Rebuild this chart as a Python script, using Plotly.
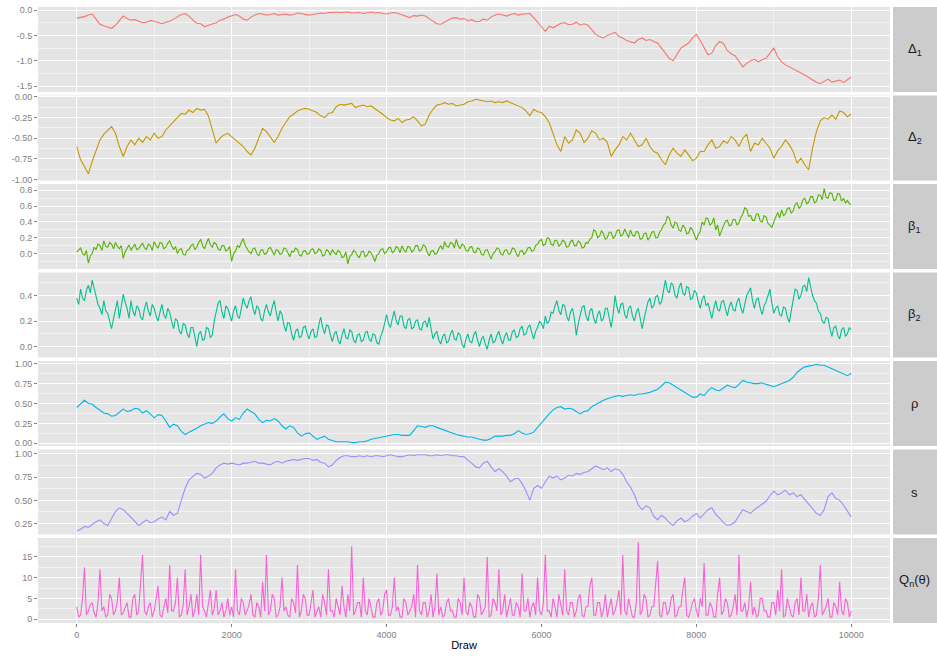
import plotly.graph_objects as go
from plotly.subplots import make_subplots

# ---------------- data ----------------
draws_50 = list(range(0, 10001, 50))
draws_25 = list(range(0, 10001, 25))

delta1 = [-0.16,-0.15,-0.13,-0.10,-0.08,-0.18,-0.28,-0.31,-0.33,-0.36,-0.30,-0.20,-0.12,-0.17,-0.20,-0.19,-0.22,-0.25,-0.24,-0.21,
 -0.22,-0.25,-0.27,-0.24,-0.22,-0.18,-0.14,-0.09,-0.07,-0.12,-0.20,-0.26,-0.27,-0.33,-0.30,-0.27,-0.25,-0.20,-0.18,-0.14,
 -0.12,-0.09,-0.12,-0.18,-0.20,-0.14,-0.10,-0.07,-0.08,-0.10,-0.09,-0.07,-0.10,-0.09,-0.08,-0.10,-0.09,-0.06,-0.07,-0.09,
 -0.10,-0.09,-0.08,-0.06,-0.07,-0.05,-0.05,-0.04,-0.05,-0.04,-0.04,-0.06,-0.06,-0.05,-0.07,-0.05,-0.04,-0.06,-0.05,-0.07,
 -0.08,-0.06,-0.05,-0.07,-0.10,-0.13,-0.15,-0.11,-0.12,-0.10,-0.12,-0.17,-0.22,-0.27,-0.28,-0.24,-0.20,-0.16,-0.15,-0.18,
 -0.17,-0.21,-0.19,-0.23,-0.22,-0.18,-0.20,-0.14,-0.10,-0.08,-0.10,-0.12,-0.09,-0.07,-0.10,-0.08,-0.08,-0.07,-0.15,-0.25,
 -0.33,-0.42,-0.32,-0.35,-0.30,-0.26,-0.25,-0.29,-0.28,-0.24,-0.30,-0.27,-0.30,-0.38,-0.48,-0.52,-0.55,-0.50,-0.47,-0.44,
 -0.52,-0.55,-0.60,-0.63,-0.65,-0.58,-0.55,-0.60,-0.58,-0.62,-0.65,-0.75,-0.85,-0.95,-1.00,-0.88,-0.75,-0.70,-0.65,-0.55,
 -0.48,-0.60,-0.75,-0.88,-0.85,-0.70,-0.62,-0.66,-0.80,-0.86,-0.90,-1.02,-1.12,-1.05,-1.00,-0.97,-1.02,-0.98,-0.95,-0.85,
 -0.75,-0.92,-1.02,-1.08,-1.12,-1.15,-1.20,-1.24,-1.28,-1.33,-1.38,-1.42,-1.45,-1.40,-1.36,-1.42,-1.40,-1.38,-1.43,-1.37,
 -1.32]

delta2 = [-0.60,-0.76,-0.84,-0.93,-0.78,-0.66,-0.52,-0.45,-0.40,-0.36,-0.44,-0.60,-0.72,-0.60,-0.52,-0.58,-0.50,-0.55,-0.48,-0.52,
 -0.44,-0.50,-0.48,-0.40,-0.35,-0.30,-0.25,-0.20,-0.21,-0.16,-0.19,-0.14,-0.16,-0.15,-0.23,-0.40,-0.56,-0.50,-0.46,-0.44,
 -0.48,-0.52,-0.56,-0.60,-0.66,-0.70,-0.62,-0.50,-0.38,-0.42,-0.48,-0.55,-0.48,-0.38,-0.31,-0.24,-0.21,-0.17,-0.15,-0.14,
 -0.15,-0.17,-0.19,-0.23,-0.25,-0.20,-0.19,-0.12,-0.09,-0.10,-0.09,-0.08,-0.13,-0.11,-0.10,-0.12,-0.11,-0.14,-0.17,-0.21,
 -0.25,-0.28,-0.29,-0.26,-0.31,-0.28,-0.27,-0.24,-0.29,-0.35,-0.33,-0.22,-0.15,-0.10,-0.09,-0.07,-0.09,-0.08,-0.11,-0.10,
 -0.09,-0.06,-0.05,-0.03,-0.04,-0.05,-0.06,-0.05,-0.07,-0.06,-0.07,-0.05,-0.07,-0.09,-0.11,-0.13,-0.17,-0.23,-0.15,-0.18,
 -0.19,-0.24,-0.31,-0.45,-0.58,-0.66,-0.48,-0.56,-0.52,-0.40,-0.44,-0.55,-0.50,-0.41,-0.44,-0.52,-0.50,-0.55,-0.72,-0.64,
 -0.58,-0.48,-0.52,-0.44,-0.52,-0.60,-0.58,-0.50,-0.60,-0.66,-0.68,-0.76,-0.82,-0.70,-0.62,-0.68,-0.72,-0.64,-0.70,-0.77,
 -0.74,-0.66,-0.66,-0.58,-0.52,-0.62,-0.60,-0.53,-0.56,-0.48,-0.52,-0.60,-0.50,-0.45,-0.66,-0.56,-0.58,-0.50,-0.56,-0.62,
 -0.74,-0.65,-0.60,-0.52,-0.58,-0.66,-0.80,-0.74,-0.82,-0.88,-0.62,-0.42,-0.29,-0.25,-0.27,-0.22,-0.27,-0.17,-0.19,-0.24,
 -0.21]

beta1 = [0.02,0.05,0.07,0.0,-0.02,0.04,-0.12,-0.03,0.0,0.08,0.05,0.12,0.1,0.04,0.16,0.09,0.08,0.14,0.12,0.06,
 0.14,0.09,0.06,0.1,-0.06,0.02,0.07,0.11,0.04,0.09,0.12,0.05,0.06,0.1,0.13,0.07,0.05,0.12,0.1,0.04,
 0.15,0.1,0.07,0.14,0.13,0.06,0.08,0.13,0.16,0.1,0.05,0.09,0.0,0.05,0.06,-0.01,-0.02,0.04,0.05,0.1,
 0.12,0.05,0.08,0.14,0.18,0.1,0.06,0.13,0.19,0.11,0.08,0.14,0.12,0.06,0.04,0.1,0.1,0.03,0.05,0.09,
 -0.1,0.0,0.03,0.1,0.08,0.14,0.19,0.1,0.06,0.02,0.0,0.06,0.07,0.0,-0.03,0.04,0.05,-0.01,0.0,0.06,
 0.08,0.02,-0.02,0.05,0.04,-0.01,0.0,0.07,0.06,0.01,-0.04,0.03,0.02,0.07,0.05,-0.02,-0.03,0.03,0.04,-0.01,
 0.0,0.05,0.06,0.0,0.01,0.06,0.04,-0.03,-0.02,0.05,0.03,-0.02,0.05,0.01,-0.01,0.04,0.02,-0.05,-0.04,0.02,
 -0.13,-0.04,-0.01,0.04,0.02,-0.03,-0.05,0.02,0.03,-0.04,-0.02,0.03,0.01,-0.04,-0.1,-0.02,0.0,0.05,0.06,0.0,
 0.02,0.07,0.08,0.01,0.03,0.09,0.07,0.01,0.1,0.04,0.02,0.09,0.08,0.02,0.04,0.1,0.1,0.03,0.05,0.11,
 0.09,0.02,-0.03,0.03,0.04,-0.01,0.0,0.06,0.1,0.05,0.15,0.09,0.08,0.14,0.13,0.07,0.18,0.1,0.06,0.12,
 0.1,0.04,0.03,0.08,0.09,0.02,0.01,0.07,0.06,-0.01,-0.02,0.04,0.05,-0.01,-0.07,0.0,0.02,0.07,0.06,0.0,
 -0.02,0.04,0.05,-0.01,0.0,0.07,0.06,0.0,-0.04,0.03,0.04,-0.01,0.02,0.07,0.08,0.03,0.04,0.1,0.12,0.16,
 0.18,0.1,0.12,0.2,0.19,0.12,0.1,0.17,0.16,0.09,0.12,0.17,0.15,0.08,0.09,0.15,0.17,0.1,0.1,0.16,
 0.14,0.07,0.08,0.14,0.13,0.18,0.2,0.3,0.28,0.2,0.22,0.29,0.25,0.18,0.2,0.27,0.27,0.19,0.22,0.29,
 0.3,0.22,0.24,0.31,0.26,0.2,0.3,0.23,0.22,0.28,0.27,0.18,0.19,0.25,0.26,0.17,0.21,0.27,0.28,0.2,
 0.2,0.27,0.3,0.36,0.38,0.47,0.45,0.36,0.32,0.4,0.38,0.3,0.28,0.36,0.33,0.25,0.26,0.33,0.3,0.22,
 0.17,0.24,0.28,0.4,0.36,0.45,0.44,0.36,0.38,0.45,0.3,0.36,0.22,0.29,0.35,0.41,0.42,0.35,0.36,0.43,
 0.43,0.36,0.39,0.46,0.5,0.58,0.56,0.47,0.48,0.42,0.42,0.5,0.5,0.41,0.4,0.48,0.46,0.38,0.36,0.33,
 0.4,0.47,0.52,0.45,0.55,0.48,0.5,0.57,0.58,0.51,0.54,0.62,0.64,0.57,0.6,0.68,0.7,0.63,0.65,0.72,
 0.72,0.64,0.66,0.74,0.74,0.68,0.82,0.71,0.7,0.77,0.76,0.67,0.68,0.76,0.75,0.66,0.7,0.64,0.67,0.63,
 0.62]

beta2 = [0.38,0.33,0.45,0.38,0.36,0.44,0.48,0.42,0.52,0.46,0.4,0.33,0.3,0.25,0.36,0.28,0.26,0.2,0.14,0.22,
 0.28,0.36,0.22,0.33,0.41,0.35,0.3,0.22,0.36,0.28,0.24,0.32,0.3,0.23,0.21,0.3,0.35,0.28,0.24,0.33,
 0.3,0.24,0.2,0.27,0.33,0.25,0.22,0.3,0.27,0.2,0.14,0.22,0.2,0.12,0.1,0.18,0.17,0.1,0.07,0.15,
 0.15,0.08,0.0,0.1,0.12,0.05,0.06,0.15,0.14,0.07,0.09,0.2,0.28,0.34,0.36,0.27,0.22,0.32,0.3,0.24,
 0.2,0.28,0.32,0.24,0.22,0.3,0.38,0.33,0.3,0.36,0.39,0.3,0.25,0.32,0.3,0.22,0.2,0.28,0.33,0.27,
 0.24,0.31,0.36,0.27,0.2,0.28,0.25,0.17,0.12,0.19,0.18,0.1,0.05,0.12,0.14,0.07,0.08,0.15,0.16,0.1,
 0.06,0.12,0.14,0.07,0.08,0.17,0.23,0.15,0.1,0.17,0.16,0.09,0.04,0.1,0.12,0.05,0.02,0.09,0.14,0.07,
 0.06,0.13,0.12,0.05,0.03,0.09,0.1,0.04,0.05,0.11,0.12,0.06,0.04,0.1,0.09,0.03,0.02,0.08,0.12,0.18,
 0.25,0.18,0.15,0.22,0.28,0.2,0.17,0.24,0.24,0.16,0.14,0.21,0.22,0.14,0.15,0.2,0.21,0.14,0.13,0.19,
 0.2,0.15,0.23,0.14,0.06,0.1,0.12,0.05,0.02,0.08,0.1,0.03,0.04,0.1,0.13,0.06,0.05,0.11,0.09,0.02,
 -0.01,0.06,0.1,0.04,0.03,0.09,0.12,0.05,0.0,0.06,0.08,0.02,-0.02,0.05,0.1,0.03,0.04,0.09,0.12,0.06,
 0.02,0.08,0.11,0.05,0.05,0.12,0.13,0.07,0.08,0.14,0.16,0.09,0.1,0.15,0.17,0.11,0.06,0.12,0.15,0.2,
 0.18,0.14,0.24,0.18,0.2,0.27,0.26,0.32,0.36,0.28,0.25,0.33,0.32,0.24,0.2,0.27,0.3,0.22,0.09,0.18,
 0.25,0.31,0.32,0.24,0.2,0.28,0.3,0.22,0.18,0.25,0.28,0.2,0.22,0.3,0.3,0.21,0.15,0.25,0.4,0.31,
 0.26,0.33,0.34,0.25,0.22,0.3,0.32,0.24,0.2,0.27,0.3,0.22,0.14,0.22,0.28,0.35,0.38,0.3,0.32,0.39,
 0.4,0.33,0.35,0.44,0.52,0.44,0.42,0.5,0.48,0.4,0.38,0.46,0.5,0.42,0.4,0.47,0.46,0.37,0.38,0.44,
 0.42,0.35,0.3,0.37,0.4,0.32,0.34,0.28,0.22,0.3,0.36,0.29,0.28,0.35,0.36,0.3,0.24,0.31,0.35,0.29,
 0.28,0.35,0.38,0.3,0.26,0.33,0.4,0.43,0.46,0.36,0.3,0.37,0.38,0.3,0.25,0.32,0.35,0.4,0.45,0.34,
 0.26,0.3,0.32,0.25,0.24,0.31,0.3,0.23,0.19,0.28,0.38,0.45,0.44,0.37,0.4,0.47,0.48,0.43,0.54,0.47,
 0.4,0.36,0.34,0.28,0.26,0.2,0.18,0.23,0.22,0.14,0.08,0.15,0.16,0.09,0.06,0.13,0.15,0.08,0.1,0.15,
 0.13]

rho = [0.45,0.50,0.54,0.50,0.49,0.45,0.41,0.38,0.37,0.34,0.35,0.39,0.43,0.40,0.41,0.44,0.43,0.38,0.41,0.37,
 0.32,0.36,0.35,0.28,0.20,0.24,0.22,0.15,0.11,0.14,0.16,0.19,0.22,0.24,0.26,0.25,0.28,0.33,0.37,0.31,
 0.28,0.32,0.30,0.38,0.43,0.40,0.37,0.30,0.26,0.29,0.28,0.31,0.28,0.22,0.18,0.22,0.20,0.13,0.09,0.12,
 0.13,0.09,0.05,0.07,0.09,0.05,0.03,0.02,0.02,0.02,0.02,0.01,0.01,0.02,0.02,0.03,0.05,0.06,0.07,0.08,
 0.09,0.10,0.11,0.11,0.10,0.10,0.10,0.16,0.22,0.21,0.20,0.22,0.22,0.20,0.18,0.16,0.14,0.12,0.11,0.10,
 0.09,0.08,0.08,0.06,0.05,0.04,0.04,0.06,0.09,0.09,0.09,0.10,0.10,0.12,0.16,0.13,0.11,0.12,0.14,0.20,
 0.26,0.32,0.37,0.42,0.45,0.46,0.43,0.44,0.43,0.40,0.37,0.40,0.41,0.46,0.49,0.52,0.54,0.56,0.58,0.59,
 0.60,0.59,0.60,0.61,0.60,0.62,0.62,0.63,0.64,0.66,0.68,0.72,0.77,0.76,0.73,0.70,0.68,0.65,0.62,0.58,
 0.58,0.62,0.60,0.66,0.70,0.67,0.66,0.70,0.73,0.71,0.70,0.74,0.79,0.77,0.76,0.75,0.75,0.76,0.74,0.72,
 0.71,0.73,0.75,0.77,0.79,0.83,0.89,0.93,0.96,0.97,0.98,0.99,0.98,0.98,0.96,0.94,0.92,0.89,0.87,0.85,
 0.88]

s_vals = [0.17,0.19,0.22,0.21,0.24,0.27,0.29,0.25,0.23,0.30,0.38,0.42,0.40,0.36,0.32,0.27,0.23,0.26,0.29,0.26,
 0.27,0.30,0.32,0.29,0.38,0.34,0.36,0.50,0.63,0.72,0.76,0.79,0.78,0.74,0.76,0.79,0.85,0.88,0.90,0.89,
 0.90,0.89,0.88,0.90,0.90,0.91,0.92,0.90,0.90,0.89,0.88,0.91,0.92,0.90,0.92,0.93,0.94,0.93,0.94,0.95,
 0.95,0.93,0.94,0.91,0.90,0.86,0.88,0.93,0.96,0.98,0.98,0.97,0.97,0.98,0.97,0.98,0.97,0.98,0.98,0.97,
 0.98,0.99,0.98,0.97,0.97,0.98,0.99,0.98,0.99,0.99,0.99,0.98,0.98,0.99,0.98,0.99,0.99,0.98,0.98,0.97,
 0.97,0.93,0.90,0.86,0.85,0.90,0.92,0.86,0.81,0.84,0.81,0.76,0.70,0.73,0.74,0.68,0.60,0.50,0.63,0.66,
 0.63,0.70,0.76,0.74,0.76,0.72,0.74,0.77,0.76,0.79,0.78,0.80,0.81,0.84,0.87,0.85,0.83,0.85,0.81,0.84,
 0.83,0.78,0.70,0.64,0.56,0.45,0.40,0.44,0.42,0.33,0.29,0.34,0.31,0.26,0.23,0.28,0.31,0.27,0.29,0.33,
 0.36,0.31,0.35,0.40,0.42,0.35,0.31,0.26,0.23,0.24,0.27,0.33,0.40,0.38,0.36,0.40,0.43,0.46,0.49,0.55,
 0.60,0.56,0.58,0.61,0.56,0.58,0.54,0.56,0.51,0.45,0.40,0.36,0.34,0.40,0.54,0.58,0.52,0.50,0.45,0.38,
 0.32]

q_theta = [3,0.5,1,5,12.5,1,2,3.5,4,1.5,0.5,4,12,2,3,0.5,1,6,5,1,
 2,4.5,10,1,1.5,3,4,0.5,0.5,5,6,1,2,9,15.5,2,1,3,4,0.5,
 2,5,8,1,0.5,3,5,1.5,13,2,2,4,10,0.5,1,3.5,12,1,3,6,
 0.5,2,6,1,15.5,3,2,0.5,4,7,1,2.5,7,1,2,4,0.5,2,5,1,
 3,0.5,12,2,1,5,4,1,2,3.5,6,1,0.5,4,3,0.5,9,2,15.5,1,
 2,6,5,0.5,1,3,10,2,3,1,0.5,5,4,1.5,13,0.5,2,6,5,1,
 1,4,7,0.5,2,3,0.5,6,4,1,12,2,2,0.5,5,3,1,8,3,0.5,
 6,2,17.5,1,2,4,4,0.5,10,2,1,5,3,0.5,0.5,4,5,1,2,6,
 7,1,1,3,10,2,3,0.5,0.5,5,4,1,2,3,6,0.5,13,2,1,4,
 4,0.5,2,6,0.5,3,11,1,3,0.5,1,4,5,2,2,0.5,0.5,5,4,1,
 10,2,1,4,3,0.5,0.5,6,5,1,2,3,15,0.5,1,5,4,2,12,1,
 2,6,0.5,3,5,1,1,4,3,0.5,11,2,2,5,0.5,3,4,1,10,2,
 1,4,15.5,2,2,0.5,5,3,0.5,6,3,1,12,2,1,4,4,0.5,2,5,
 6,1,0.5,3,3,8,10,1,1,4,4,0.5,2,6,0.5,3,5,1,2,4,
 7,1,15.5,2,1,5,3,0.5,0.5,4,18.5,1,2,6,5,0.5,1,3,3,8,
 14,1,0.5,4,4,1,2,5,6,0.5,1,3,3,7,10,1,0.5,2,4,5,
 2,0.5,5,3,13.5,1,1,4,3,0.5,0.5,6,10,1,2,5,4,0.5,1,3,
 6,1,15.5,2,2,4,0.5,3,9,1,3,0.5,1,5,5,2,2,0.5,0.5,4,
 4,1,7,2,12,0.5,1,5,3,1,0.5,4,5,1,10,2,2,6,0.5,3,
 4,0.5,1,5,13,1,2,3,5,0.5,0.5,4,3,1,9,2,1,5,4,0.5,
 2]

strip_labels = ["Δ<sub>1</sub>", "Δ<sub>2</sub>", "β<sub>1</sub>", "β<sub>2</sub>",
                "ρ", "s", "Q<sub>n</sub>(θ)"]
x_ticks = [0, 2000, 4000, 6000, 8000, 10000]
x_ticktext = ["0", "2000", "4000", "6000", "8000", "10000"]
y_ticks = [
    [-1.5, -1.0, -0.5, 0.0],
    [-1.0, -0.75, -0.5, -0.25, 0.0],
    [0.0, 0.2, 0.4, 0.6, 0.8],
    [0.0, 0.2, 0.4],
    [0.0, 0.25, 0.5, 0.75, 1.0],
    [0.25, 0.5, 0.75, 1.0],
    [0, 5, 10, 15],
]
y_ticktext = [
    ["-1.5", "-1.0", "-0.5", "0.0"],
    ["-1.00", "-0.75", "-0.50", "-0.25", "0.00"],
    ["0.0", "0.2", "0.4", "0.6", "0.8"],
    ["0.0", "0.2", "0.4"],
    ["0.00", "0.25", "0.50", "0.75", "1.00"],
    ["0.25", "0.50", "0.75", "1.00"],
    ["0", "5", "10", "15"],
]

# ---------------- styling ----------------
series = [
    (draws_50, delta1, "#F8766D"),
    (draws_50, delta2, "#C49A00"),
    (draws_25, beta1, "#53B400"),
    (draws_25, beta2, "#00C094"),
    (draws_50, rho, "#00B6EB"),
    (draws_50, s_vals, "#A58AFF"),
    (draws_25, q_theta, "#FB61D7"),
]
y_ranges = [[-1.614, 0.059], [-1.01, 0.016], [-0.195, 0.879], [-0.085, 0.58],
            [-0.034, 1.034], [0.133, 1.047], [-0.9, 19.5]]

W, H = 937, 658
ML, MR, MT, MB = 38, 47, 7, 35
plot_w = W - ML - MR

fig = make_subplots(rows=7, cols=1, shared_xaxes=True, vertical_spacing=3.5 / (H - MT - MB))

for i, (xs, ys, col) in enumerate(series):
    r = i + 1
    fig.add_trace(go.Scatter(x=xs, y=ys, mode="lines",
                             line=dict(color=col, width=1.1),
                             hoverinfo="skip", showlegend=False), row=r, col=1)
    major = y_ticks[i]
    step = major[1] - major[0]
    minor_vals = [v + step / 2 for v in [major[0] - step] + major]
    fig.update_yaxes(row=r, col=1, range=y_ranges[i], tickvals=major, ticktext=y_ticktext[i],
                     automargin=False,
                     showgrid=True, gridcolor="white", gridwidth=1.1, zeroline=False,
                     ticks="outside", ticklen=3, tickcolor="#7F7F7F", tickwidth=1,
                     tickfont=dict(size=9, color="#7F7F7F"),
                     minor=dict(tickmode="array", tickvals=minor_vals, showgrid=True,
                                gridcolor="#F2F2F2", gridwidth=0.6, ticks=""),
                     showline=False)
    fig.update_xaxes(row=r, col=1, range=[-500, 10500], tickvals=x_ticks, ticktext=x_ticktext,
                     automargin=False,
                     showgrid=True, gridcolor="white", gridwidth=1.1, zeroline=False,
                     minor=dict(tickmode="array", tickvals=[-1000, 1000, 3000, 5000, 7000, 9000, 11000],
                                showgrid=True, gridcolor="#F2F2F2", gridwidth=0.6, ticks=""),
                     showline=False,
                     ticks="outside" if r == 7 else "", ticklen=3, tickcolor="#7F7F7F",
                     showticklabels=(r == 7), tickfont=dict(size=9, color="#7F7F7F"))
    yref = "y domain" if r == 1 else f"y{r} domain"
    fig.add_shape(type="rect", xref="paper", yref=yref,
                  x0=(893 - ML) / plot_w, x1=(W - ML) / plot_w, y0=0, y1=1,
                  fillcolor="#CCCCCC", line=dict(width=0), layer="below")
    fig.add_annotation(xref="paper", yref=yref, x=(915 - ML) / plot_w, y=0.5,
                       text=strip_labels[i], showarrow=False,
                       font=dict(size=13, color="#1A1A1A"), xanchor="center", yanchor="middle")

fig.update_xaxes(row=7, col=1, title=dict(text="Draw", font=dict(size=11, color="black"), standoff=2))

fig.update_layout(width=W, height=H, margin=dict(l=ML, r=MR, t=MT, b=MB),
                  paper_bgcolor="white", plot_bgcolor="#E5E5E5", showlegend=False,
                  font=dict(family="Liberation Sans, Arial, sans-serif", size=9, color="#7F7F7F"))

fig.write_html("out.html", config={"displayModeBar": False},
               post_script="document.body.style.margin='0';document.body.style.padding='0';"
                           "document.body.style.overflow='hidden';")
